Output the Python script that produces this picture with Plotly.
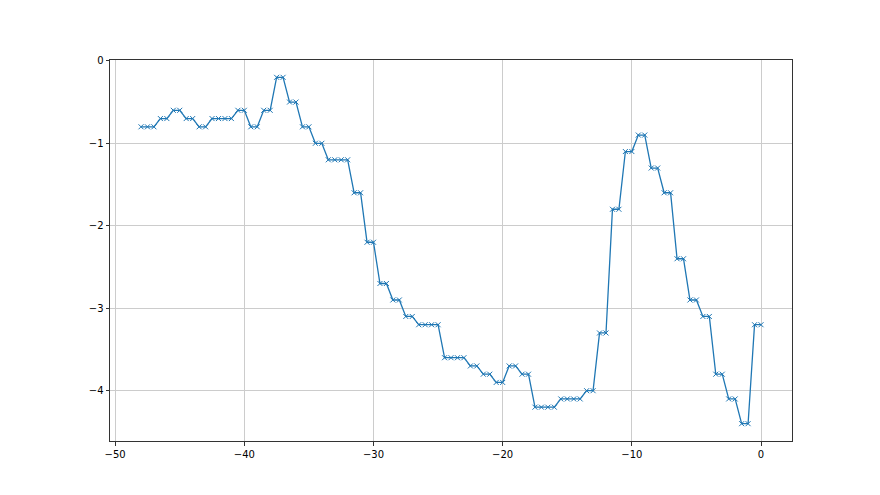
import plotly.graph_objects as go

x_values = [
    -48.0, -47.5, -47.0, -46.5, -46.0, -45.5, -45.0, -44.5, -44.0, -43.5,
    -43.0, -42.5, -42.0, -41.5, -41.0, -40.5, -40.0, -39.5, -39.0, -38.5,
    -38.0, -37.5, -37.0, -36.5, -36.0, -35.5, -35.0, -34.5, -34.0, -33.5,
    -33.0, -32.5, -32.0, -31.5, -31.0, -30.5, -30.0, -29.5, -29.0, -28.5,
    -28.0, -27.5, -27.0, -26.5, -26.0, -25.5, -25.0, -24.5, -24.0, -23.5,
    -23.0, -22.5, -22.0, -21.5, -21.0, -20.5, -20.0, -19.5, -19.0, -18.5,
    -18.0, -17.5, -17.0, -16.5, -16.0, -15.5, -15.0, -14.5, -14.0, -13.5,
    -13.0, -12.5, -12.0, -11.5, -11.0, -10.5, -10.0, -9.5, -9.0, -8.5,
    -8.0, -7.5, -7.0, -6.5, -6.0, -5.5, -5.0, -4.5, -4.0, -3.5,
    -3.0, -2.5, -2.0, -1.5, -1.0, -0.5, 0.0,
]

y_values = [
    -0.8, -0.8, -0.8, -0.7, -0.7, -0.6, -0.6, -0.7, -0.7, -0.8,
    -0.8, -0.7, -0.7, -0.7, -0.7, -0.6, -0.6, -0.8, -0.8, -0.6,
    -0.6, -0.2, -0.2, -0.5, -0.5, -0.8, -0.8, -1.0, -1.0, -1.2,
    -1.2, -1.2, -1.2, -1.6, -1.6, -2.2, -2.2, -2.7, -2.7, -2.9,
    -2.9, -3.1, -3.1, -3.2, -3.2, -3.2, -3.2, -3.6, -3.6, -3.6,
    -3.6, -3.7, -3.7, -3.8, -3.8, -3.9, -3.9, -3.7, -3.7, -3.8,
    -3.8, -4.2, -4.2, -4.2, -4.2, -4.1, -4.1, -4.1, -4.1, -4.0,
    -4.0, -3.3, -3.3, -1.8, -1.8, -1.1, -1.1, -0.9, -0.9, -1.3,
    -1.3, -1.6, -1.6, -2.4, -2.4, -2.9, -2.9, -3.1, -3.1, -3.8,
    -3.8, -4.1, -4.1, -4.4, -4.4, -3.2, -3.2,
]

x_ticks = [-50, -40, -30, -20, -10, 0]
y_ticks = [0, -1, -2, -3, -4]

color = "#1f77b4"

fig = go.Figure()
fig.add_trace(go.Scatter(
    x=x_values, y=y_values, mode="lines+markers",
    line=dict(color=color, width=1.3),
    marker=dict(symbol="x-thin", size=5, line=dict(color=color, width=1), color=color),
    showlegend=False,
))

axis_common = dict(
    showline=True, linecolor="#333333", linewidth=1, mirror=True,
    ticks="outside", ticklen=3.5, tickwidth=0.8, tickcolor="#333333",
    showgrid=True, gridcolor="#cccccc", gridwidth=1,
    zeroline=False,
    tickfont=dict(family="DejaVu Sans", size=10, color="black"),
)

# page body has an 8px default margin; margins compensate so the plot area
# lands at the same place as in the reference
fig.update_layout(
    width=880, height=495,
    margin=dict(l=102, r=96, t=52, b=62),
    paper_bgcolor="white", plot_bgcolor="white",
    xaxis=dict(range=[-50.4, 2.4], tickvals=x_ticks,
               ticktext=[str(v).replace("-", "\u2212") for v in x_ticks], **axis_common),
    yaxis=dict(range=[-4.61, 0.01], tickvals=y_ticks,
               ticktext=[str(v).replace("-", "\u2212") for v in y_ticks], **axis_common),
)

fig.write_html("out.html")
